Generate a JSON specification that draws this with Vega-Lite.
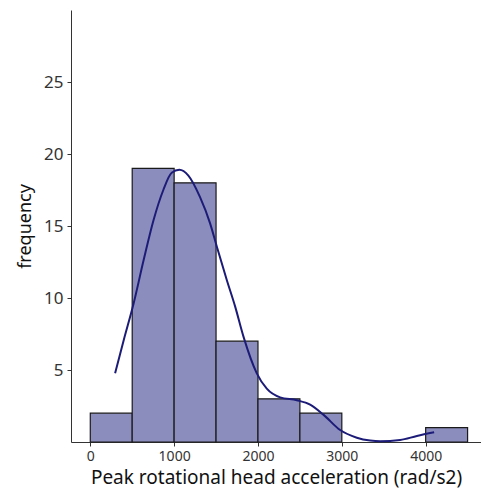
{
  "$schema": "https://vega.github.io/schema/vega-lite/v6.json",
  "autosize": "none",
  "width": 410,
  "height": 432,
  "padding": {"left": 71, "top": 10, "right": 0, "bottom": 48},
  "background": "white",
  "config": {
    "view": {"stroke": null},
    "font": "Noto Sans",
    "axis": {"grid": false, "domainColor": "#333333", "tickColor": "#333333", "labelColor": "#333333", "titleColor": "#111111", "titleFontWeight": "normal", "labelFont": "Noto Sans", "titleFont": "Noto Sans"}
  },
  "datasets": {
    "bins": [
      {"start": 0, "end": 500, "count": 2},
      {"start": 500, "end": 1000, "count": 19},
      {"start": 1000, "end": 1500, "count": 18},
      {"start": 1500, "end": 2000, "count": 7},
      {"start": 2000, "end": 2500, "count": 3},
      {"start": 2500, "end": 3000, "count": 2},
      {"start": 4000, "end": 4500, "count": 1}
    ],
    "density": [
      {"x": 296, "y": 4.77},
      {"x": 400, "y": 7.1},
      {"x": 516, "y": 9.6},
      {"x": 635, "y": 12.6},
      {"x": 754, "y": 15.4},
      {"x": 871, "y": 17.5},
      {"x": 971, "y": 18.7},
      {"x": 1062, "y": 18.9},
      {"x": 1170, "y": 18.5},
      {"x": 1309, "y": 17.0},
      {"x": 1428, "y": 15.2},
      {"x": 1508, "y": 13.6},
      {"x": 1628, "y": 11.25},
      {"x": 1728, "y": 9.4},
      {"x": 1828, "y": 7.3},
      {"x": 1986, "y": 4.77},
      {"x": 2105, "y": 3.7},
      {"x": 2264, "y": 3.1},
      {"x": 2463, "y": 2.9},
      {"x": 2622, "y": 2.6},
      {"x": 2780, "y": 1.9},
      {"x": 2980, "y": 0.83},
      {"x": 3179, "y": 0.3},
      {"x": 3338, "y": 0.1},
      {"x": 3457, "y": 0.05},
      {"x": 3696, "y": 0.14},
      {"x": 3895, "y": 0.42},
      {"x": 4101, "y": 0.67}
    ]
  },
  "layer": [
    {
      "data": {"name": "bins"},
      "mark": {"type": "rect", "fill": "#8b8dbd", "stroke": "#1a1a1a", "strokeWidth": 1.2},
      "encoding": {
        "x": {"field": "start", "type": "quantitative", "scale": {"domain": [-230, 4660], "nice": false, "zero": false},
          "axis": {"title": "Peak rotational head acceleration (rad/s2)", "values": [0, 1000, 2000, 3000, 4000], "format": "d", "labelFontSize": 14, "titleFontSize": 19, "tickSize": 4, "labelPadding": 3, "titlePadding": 5, "labelFlush": false}},
        "x2": {"field": "end"},
        "y": {"field": "count", "type": "quantitative", "scale": {"domain": [0, 30], "nice": false},
          "axis": {"title": "frequency", "values": [5, 10, 15, 20, 25], "labelFontSize": 17, "titleFontSize": 18, "tickSize": 4, "labelPadding": 4, "titlePadding": 9, "labelFlush": false}},
        "y2": {"datum": 0}
      }
    },
    {
      "data": {"name": "density"},
      "mark": {"type": "line", "interpolate": "monotone", "color": "#1c1c78", "strokeWidth": 2},
      "encoding": {
        "x": {"field": "x", "type": "quantitative"},
        "y": {"field": "y", "type": "quantitative"}
      }
    }
  ]
}
